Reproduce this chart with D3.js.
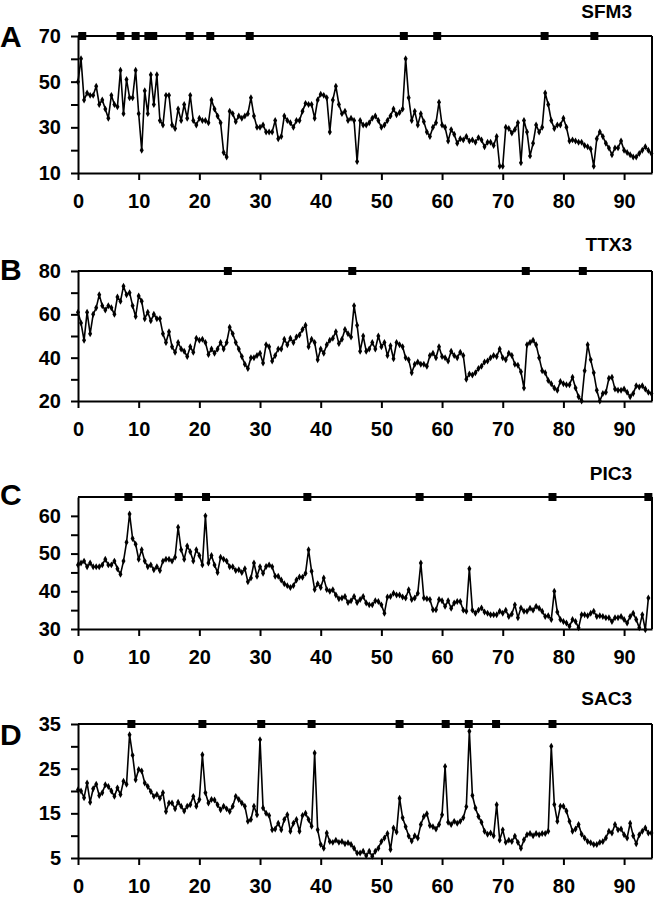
<!DOCTYPE html>
<html>
<head>
<meta charset="utf-8">
<script src="https://cdn.jsdelivr.net/npm/d3@7"></script>
<style>
  body { margin: 0; background: #fff; }
  svg { display: block; }
  text { font-family: "Liberation Sans", Arial, sans-serif; font-weight: bold; fill: #000; }
</style>
</head>
<body>
<div id="chart"></div>
<script>
// time between two samples (x units)
var sampleStep = 0.5;
var xTicks = [0, 10, 20, 30, 40, 50, 60, 70, 80, 90];

// panel A - SFM3
var sfm3Values = [
  50, 60, 42, 45, 44, 44, 48, 40, 42, 38,
  34, 44, 40, 39, 55, 36, 51, 43, 43, 55,
  36, 20, 46, 36, 53, 40, 53, 33, 31, 44,
  44, 31, 29.5, 38, 33, 40, 34, 44, 33, 31,
  34, 33, 33, 32, 42, 38, 35, 32, 19, 17,
  37, 36, 32.5, 35, 34, 35, 36, 43, 35, 30,
  30, 31, 28, 28, 28, 33, 25, 26, 35, 33,
  32, 30, 33, 33, 37, 40.5, 40, 40, 34, 42,
  44.5, 44, 43, 28, 42, 48, 40, 36, 37, 33,
  34, 33, 15, 33, 31, 31, 32, 34, 35, 33,
  30, 31, 33, 35, 38, 35.5, 36.5, 38, 60, 43,
  33, 37, 31, 36, 32.5, 28, 26, 30, 32, 41,
  31, 30, 24, 29, 27, 23, 25, 24.5, 26, 24,
  24.5, 23.5, 25.5, 24.5, 21.5, 23.5, 23.5, 22, 26, 13,
  13, 30, 29.5, 27.5, 29, 32, 14.5, 33, 28, 17.5,
  23, 31, 28, 30, 45, 40, 33, 29.5, 31, 31,
  34, 30, 24, 24.5, 24, 23.5, 23.5, 22, 21.5, 20.5,
  13, 25, 28, 26, 23, 21, 18, 21, 21, 24,
  20, 19, 18, 17, 17, 18.5, 20, 21.5, 20, 18.5
];
var sfm3Events = [0.7, 7.0, 9.5, 11.6, 12.0, 12.4, 18.4, 21.8, 28.3, 53.7, 59.2, 76.9, 85.1];
var sfm3Domain = [10, 70];
var sfm3Ticks = [10, 20, 30, 40, 50, 60, 70];
var sfm3Labels = [10, 30, 50, 70];

// panel B - TTX3
var ttx3Values = [
  61, 56, 48, 61, 51, 60, 63, 69, 64, 62,
  64, 63, 60, 68, 66, 73, 69, 70, 64, 59,
  68.5, 66, 58, 61, 57, 60, 58, 58, 51, 47,
  52, 45, 42.5, 47, 44, 43, 40.5, 45, 42.5, 49,
  48, 48.5, 47, 41.5, 44, 42, 44, 47, 44, 47,
  54, 51, 47, 44, 40.5, 37, 35, 40, 40, 41,
  42, 37.5, 46, 45, 38.5, 41, 44, 44, 48.5, 46,
  49, 47, 49.5, 50.5, 53, 55, 45, 48.5, 47, 39,
  44, 42, 46, 48, 49, 52, 46.5, 48.5, 53, 51,
  49.5, 64, 55, 43, 50, 43, 44, 47, 44, 50,
  45, 47, 41, 45.5, 39.5, 47, 46, 45, 40, 39,
  33, 37, 38, 37, 37, 36, 41, 42, 40, 45,
  40.5, 40, 38.5, 43, 41, 40, 42.5, 41, 30, 32.5,
  32, 33, 35, 36, 38, 38.5, 40, 41, 40.5, 44,
  40, 39, 42, 41, 37, 36.5, 33.5, 26, 46, 47,
  48, 46, 40, 34, 33, 29.5, 28, 26, 25, 29,
  28, 27.5, 27.5, 31, 26, 22, 20, 34, 46, 39,
  33, 25, 20, 23.5, 24, 30.5, 31, 25.5, 25, 25,
  25.5, 24, 22, 23.5, 27, 26.5, 27, 25.5, 24, 23.5
];
var ttx3Events = [24.7, 45.2, 73.8, 83.2];
var ttx3Domain = [20, 80];
var ttx3Ticks = [20, 30, 40, 50, 60, 70, 80];
var ttx3Labels = [20, 40, 60, 80];

// panel C - PIC3
var pic3Values = [
  47, 47.5, 48, 46.5, 47.5, 46.5, 46.5, 46.5, 47, 48.5,
  47, 47, 48, 46, 44.5, 48, 53, 60.5, 54, 52.5,
  48.5, 51, 48, 46.5, 47, 45.7, 46.5, 45.5, 48, 48.5,
  48.5, 48, 49, 57, 51, 48.5, 52, 50.5, 48, 51,
  49.5, 47, 60, 47.5, 49.5, 47, 45, 49, 48.5, 48,
  46.5, 46.5, 45.5, 45.7, 45, 46, 42.5, 43.5, 47.5, 44,
  46.5, 44.8, 46.6, 47, 46.5, 44, 44, 43, 42, 41.5,
  41, 41.5, 43, 43.8, 43.7, 44.8, 51, 45.3, 40.5, 42,
  41, 43.5, 40.5, 40, 40.4, 39, 38, 38.2, 38.6, 37,
  37.5, 38.6, 37, 37.8, 38.6, 36.9, 36.4, 36.4, 37.5, 37.3,
  36.4, 34.2, 38.5, 38.6, 39.5, 39, 39, 38.5, 38.2, 40.4,
  37.8, 38.2, 39.5, 47.5, 38.2, 38, 37.8, 35.1, 35.1, 37.8,
  37.5, 36, 37.5, 35.5, 36.9, 37.3, 37.3, 35, 34.7, 46,
  35, 34.2, 35, 35.6, 34.5, 34.2, 33.8, 33.8, 33.8, 34.7,
  34.2, 35, 33.3, 34, 36.4, 33, 35.6, 34.7, 34.7, 35.5,
  35, 36, 35.5, 34.7, 33.3, 33.5, 32.5, 40, 34.5, 32.5,
  32, 31.6, 30.7, 32.5, 32, 30.3, 33.8, 33.8, 33.5, 34.2,
  34.7, 33.3, 33.5, 33.3, 33, 33, 32, 33, 33, 33.3,
  32.5, 31.6, 33.3, 34.2, 32.5, 30.3, 33.8, 29.8, 38.2
];
var pic3Events = [8.3, 16.6, 21.1, 37.8, 56.3, 64.3, 78.2, 94.0];
var pic3Domain = [30, 65];
var pic3Ticks = [30, 35, 40, 45, 50, 55, 60];
var pic3Labels = [30, 40, 50, 60];

// panel D - SAC3
var sac3Values = [
  20.3, 20, 18.5, 21.8, 17.5, 20.5, 21.5, 19, 19.6, 21.4,
  21, 20, 18.8, 20.7, 19.2, 22.2, 21.5, 32.6, 28, 22.5,
  24.8, 24.5, 21.8, 21, 19.9, 18.8, 19.2, 18.4, 19.6, 15.4,
  17.3, 17.3, 16, 17.5, 16.6, 15.5, 16.6, 16.9, 18.8, 16.6,
  18.1, 28.1, 19.6, 17.3, 18.1, 18, 16.9, 15.8, 16.6, 16,
  15.4, 16.6, 18.8, 18.1, 17.3, 16.6, 13.2, 13.6, 16.6, 14.7,
  31.5, 16.2, 15, 14.5, 11.3, 11.5, 12.8, 11.3, 13.6, 14.7,
  11, 12.8, 13.6, 11, 14.5, 15, 13.6, 12.1, 28.5, 11.3,
  8, 7.2, 10.6, 8.7, 8.5, 9, 8.5, 8.7, 8.2, 8.4,
  8, 7.2, 6.1, 6.1, 6.5, 5.5, 6.5, 5.4, 6.5, 7.2,
  8.7, 9.5, 10.5, 6.9, 11.7, 10.8, 18.4, 14, 12, 9.9,
  8.8, 10, 9.5, 12.5, 14.3, 14.9, 12.3, 12, 11.5, 12.5,
  14.7, 25.5, 13, 12.5, 13.2, 12.8, 13.2, 14, 16.5, 33.4,
  19, 16.2, 14.3, 13, 11, 10.3, 10.6, 10, 16.9, 9,
  11.3, 8.5, 9, 8.7, 9.9, 8.5, 7.2, 9.1, 10.2, 10.5,
  10, 10.5, 10.2, 10.5, 10.5, 11, 30, 17, 13.2, 16.6,
  16.6, 15.5, 13.2, 11, 11.5, 12.5, 10.3, 9.5, 8.7, 8.4,
  8, 8, 8.5, 8.7, 9.5, 11, 10.6, 12.5, 11.3, 11.5,
  10.2, 9.5, 12.8, 10, 8.2, 10.2, 11, 11.7, 10.6, 10.6
];
var sac3Events = [8.8, 20.5, 30.2, 38.5, 53.0, 60.6, 64.4, 68.9, 78.2];
var sac3Domain = [5, 35];
var sac3Ticks = [5, 10, 15, 20, 25, 30, 35];
var sac3Labels = [5, 15, 25, 35];

var width = 654, height = 900;
var left = 78, right = 652;

// panel placement on the page
var panels = [
  { letter: "A", name: "SFM3", values: sfm3Values, events: sfm3Events, domain: sfm3Domain, ticks: sfm3Ticks, labels: sfm3Labels, top: 36, bottom: 173, letterY: 47, nameY: 18 },
  { letter: "B", name: "TTX3", values: ttx3Values, events: ttx3Events, domain: ttx3Domain, ticks: ttx3Ticks, labels: ttx3Labels, top: 271, bottom: 401, letterY: 280, nameY: 251 },
  { letter: "C", name: "PIC3", values: pic3Values, events: pic3Events, domain: pic3Domain, ticks: pic3Ticks, labels: pic3Labels, top: 497, bottom: 629, letterY: 505, nameY: 480 },
  { letter: "D", name: "SAC3", values: sac3Values, events: sac3Events, domain: sac3Domain, ticks: sac3Ticks, labels: sac3Labels, top: 724, bottom: 858, letterY: 745, nameY: 705 }
];

var svg = d3.select("#chart")
    .append("svg")
    .attr("width", width)
    .attr("height", height);

svg.append("rect").attr("width", width).attr("height", height).attr("fill", "#fff");

var x = d3.scaleLinear().domain([0, 94.6]).range([left, right]);

panels.forEach(function(p) {
    var y = d3.scaleLinear().domain(p.domain).range([p.bottom, p.top]);
    var g = svg.append("g");

    // frame: top line and right side
    g.append("line")
        .attr("x1", left).attr("x2", right)
        .attr("y1", p.top).attr("y2", p.top)
        .attr("stroke", "#000").attr("stroke-width", 2);
    g.append("line")
        .attr("x1", right).attr("x2", right)
        .attr("y1", p.top).attr("y2", p.bottom)
        .attr("stroke", "#000").attr("stroke-width", 2);

    // axes
    var xAxis = g.append("g")
        .attr("transform", "translate(0," + p.bottom + ")")
        .call(d3.axisBottom(x).tickValues(xTicks).tickSize(7).tickSizeOuter(0).tickPadding(14));
    var yAxis = g.append("g")
        .attr("transform", "translate(" + left + ",0)")
        .call(d3.axisLeft(y).tickValues(p.ticks).tickSize(7).tickSizeOuter(0).tickPadding(10)
            .tickFormat(function(d) { return p.labels.indexOf(d) >= 0 ? d : ""; }));
    [xAxis, yAxis].forEach(function(a) {
        a.select(".domain").attr("stroke-width", 2);
        a.selectAll(".tick line").attr("stroke-width", 2);
        a.selectAll("text")
            .style("font-size", "20px")
            .style("font-weight", "bold")
            .style("font-family", "'Liberation Sans', Arial, sans-serif");
    });

    // trace
    var line = d3.line()
        .x(function(d, i) { return x(i * sampleStep); })
        .y(function(d) { return y(d); });
    g.append("path")
        .datum(p.values)
        .attr("fill", "none")
        .attr("stroke", "#000")
        .attr("stroke-width", 1.6)
        .attr("stroke-linejoin", "round")
        .attr("d", line);

    g.selectAll(".pt")
        .data(p.values)
        .enter()
        .append("path")
        .attr("class", "pt")
        .attr("transform", function(d, i) { return "translate(" + x(i * sampleStep) + "," + y(d) + ")"; })
        .attr("d", d3.symbol().type(d3.symbolDiamond).size(14))
        .attr("fill", "#000");

    // event markers on the top line
    g.selectAll(".ev")
        .data(p.events)
        .enter()
        .append("rect")
        .attr("class", "ev")
        .attr("x", function(d) { return x(d) - 4; })
        .attr("y", p.top - 4)
        .attr("width", 8)
        .attr("height", 8)
        .attr("fill", "#000");

    // labels
    svg.append("text")
        .attr("x", 632)
        .attr("y", p.nameY)
        .attr("text-anchor", "end")
        .style("font-size", "19px")
        .text(p.name);
    svg.append("text")
        .attr("x", 0)
        .attr("y", p.letterY)
        .style("font-size", "30px")
        .text(p.letter);
});
</script>
</body>
</html>
